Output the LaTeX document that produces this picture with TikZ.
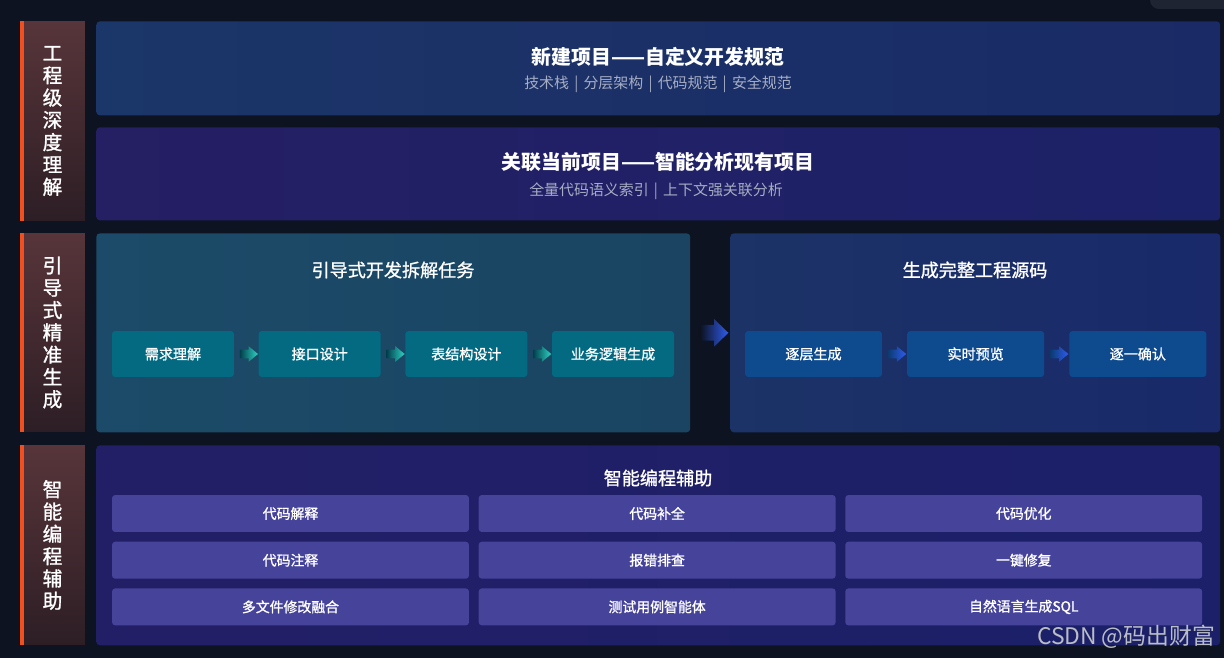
\documentclass[tikz,border=0pt]{standalone}
\usepackage{fontspec}
\setmainfont{Noto Sans CJK SC}
\newfontfamily\mdfont[FakeBold=1.2]{Noto Sans CJK SC}
\usepackage{tikz}
\usetikzlibrary{shapes.arrows, positioning, calc}
\definecolor{BgDark} {HTML}{0D1321}
\definecolor{Corner} {HTML}{1E2432}
\definecolor{BarTop} {HTML}{57353A}
\definecolor{BarBot} {HTML}{2D1E25}
\definecolor{Stripe} {HTML}{F24E1E}
\definecolor{SubGray}{HTML}{A6ADC4}
\definecolor{NewL}   {HTML}{1B3668}
\definecolor{NewR}   {HTML}{1A2A66}
\definecolor{CurL}   {HTML}{251F64}
\definecolor{CurR}   {HTML}{1C2268}
\definecolor{GuideL} {HTML}{1B4B68}
\definecolor{GuideR} {HTML}{1A4462}
\definecolor{GenL}   {HTML}{1B3366}
\definecolor{GenR}   {HTML}{19296A}
\definecolor{AsstL}  {HTML}{231F66}
\definecolor{AsstR}  {HTML}{1B2068}
\definecolor{StepC}  {HTML}{036A82}
\definecolor{StepD}  {HTML}{0E4A8E}
\definecolor{Cell}   {HTML}{46439B}
\definecolor{Teal}   {HTML}{2ED3C2}
\definecolor{Blue}   {HTML}{2F5CF0}
\definecolor{Mark}   {HTML}{B9BDC6}
\tikzset{
  panel/.style={anchor=north west, rounded corners=2pt, inner sep=0pt},
  ttl/.style={text=white, font=\bfseries\fontsize{11.3}{13}\selectfont},
  sub/.style={text=SubGray, font=\fontsize{8.5}{10}\selectfont},
  hd/.style={text=white, font=\mdfont\fontsize{10.3}{12}\selectfont}
}
\newcommand{\sep}{\hspace{0.35em}|\hspace{0.35em}}

\begin{document}
\begin{tikzpicture}[
  x=0.02cm, y=-0.02cm,
  lbar/.style={top color=BarTop, bottom color=BarBot, minimum width=1.3cm,
               inner sep=0pt, align=center, text=white,
               font=\mdfont\fontsize{11.2}{12.7}\selectfont},
  stepc/.style={fill=StepC, rounded corners=1.8pt, minimum width=2.44cm,
                minimum height=0.92cm, text=white,
                font=\mdfont\fontsize{8}{10}\selectfont},
  stepd/.style={stepc, fill=StepD, minimum width=2.74cm},
  cell/.style={fill=Cell, rounded corners=1.8pt, minimum width=7.14cm,
               minimum height=0.74cm, text=white,
               font=\mdfont\fontsize{7.9}{10}\selectfont},
  sarr/.style={single arrow, minimum height=0.36cm, inner sep=0.08cm,
               single arrow head extend=0.07cm, single arrow tip angle=80},
  arrc/.style={sarr, left color=StepC!60!black, right color=Teal},
  arrd/.style={sarr, left color=StepD!80!black, right color=Blue},
  big/.style={single arrow, minimum height=0.56cm, inner sep=0.15cm,
              single arrow head extend=0.12cm, single arrow tip angle=88,
              left color=BgDark, right color=Blue}
]
  \useasboundingbox (0,0) rectangle (1224,658);
  \fill[BgDark] (0,0) rectangle (1224,658);
  \fill[Corner, rounded corners=0.18cm] (1150,-14) rectangle (1262,9);

  % side labels
  \node[lbar, minimum height=4cm]    (L1) at (52.5,121)   {工\\程\\级\\深\\度\\理\\解};
  \node[lbar, minimum height=3.98cm] (L2) at (52.5,332.5) {引\\导\\式\\精\\准\\生\\成};
  \node[lbar, minimum height=4cm]    (L3) at (52.5,545)   {智\\能\\编\\程\\辅\\助};
  \fill[Stripe] (L1.north west) rectangle ([xshift=0.08cm]L1.south west);
  \fill[Stripe] (L2.north west) rectangle ([xshift=0.08cm]L2.south west);
  \fill[Stripe] (L3.north west) rectangle ([xshift=0.08cm]L3.south west);

  % panels
  \node[panel, left color=NewL, right color=NewR,
        minimum width=22.48cm, minimum height=1.88cm] (New) at (96,21) {};
  \node[panel, left color=CurL, right color=CurR,
        minimum width=22.48cm, minimum height=1.86cm] (Cur) at (96,127) {};
  \node[panel, left color=GuideL, right color=GuideR,
        minimum width=11.88cm, minimum height=3.98cm] (Guide) at (96,233) {};
  \node[panel, left color=GenL, right color=GenR,
        minimum width=9.8cm, minimum height=3.98cm] (Gen) at (730,233) {};
  \node[panel, left color=AsstL, right color=AsstR,
        minimum width=22.48cm, minimum height=4cm] (Assist) at (96,445) {};

  \node[ttl] (NewT) at (658,57)  {新建项目——自定义开发规范};
  \node[sub] (NewS) at (658,84)  {技术栈\sep 分层架构\sep 代码规范\sep 安全规范};
  \node[ttl] (CurT) at (658,162) {关联当前项目——智能分析现有项目};
  \node[sub] (CurS) at (656,191) {全量代码语义索引\sep 上下文强关联分析};

  % guided generation
  \node[hd] (GuideT) at (393,270) {引导式开发拆解任务};
  \node[stepc]                        (s1) at (173,354) {需求理解};
  \node[stepc, right=0.48cm of s1]    (s2) {接口设计};
  \node[stepc, right=0.48cm of s2]    (s3) {表结构设计};
  \node[stepc, right=0.48cm of s3]    (s4) {业务逻辑生成};
  \node[arrc] (a1) at ($(s1.east)!0.5!(s2.west)$) {};
  \node[arrc] (a2) at ($(s2.east)!0.5!(s3.west)$) {};
  \node[arrc] (a3) at ($(s3.east)!0.5!(s4.west)$) {};

  \node[big] (go) at ($(Guide.east)!0.5!(Gen.west)$) {};

  \node[hd] (GenT) at (975,270) {生成完整工程源码};
  \node[stepd]                        (t1) at (813.5,354) {逐层生成};
  \node[stepd, right=0.49cm of t1]    (t2) {实时预览};
  \node[stepd, right=0.49cm of t2]    (t3) {逐一确认};
  \node[arrd] (b1) at ($(t1.east)!0.5!(t2.west)$) {};
  \node[arrd] (b2) at ($(t2.east)!0.5!(t3.west)$) {};

  % assistance grid
  \node[hd] (AssistT) at (658,478) {智能编程辅助};
  \node[cell]                         (c11) at (290.5,513.5) {代码解释};
  \node[cell, right=0.18cm of c11]    (c12) {代码补全};
  \node[cell, right=0.18cm of c12]    (c13) {代码优化};
  \node[cell, below=0.18cm of c11]    (c21) {代码注释};
  \node[cell, right=0.18cm of c21]    (c22) {报错排查};
  \node[cell, right=0.18cm of c22]    (c23) {一键修复};
  \node[cell, below=0.18cm of c21]    (c31) {多文件修改融合};
  \node[cell, right=0.18cm of c31]    (c32) {测试用例智能体};
  \node[cell, right=0.18cm of c32]    (c33) {自然语言生成SQL};

  \node[text=Mark, font=\fontsize{13}{15}\selectfont] (wm) at (1126,637) {CSDN @码出财富};
\end{tikzpicture}
\end{document}
